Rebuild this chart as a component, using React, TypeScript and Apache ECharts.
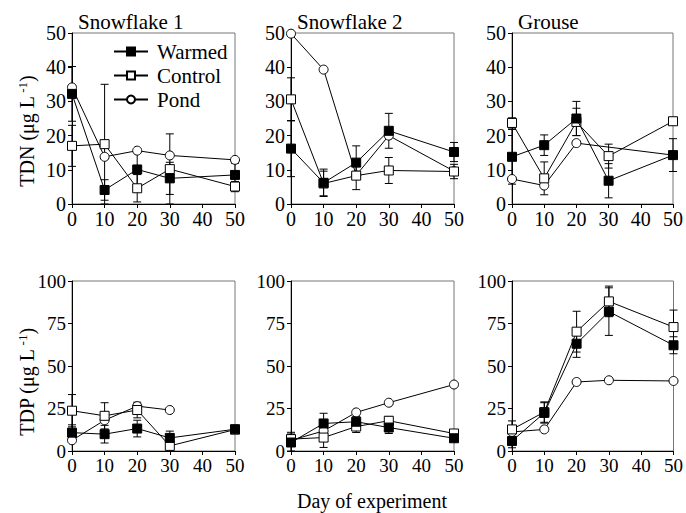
import React, { useEffect, useRef } from "react";
import * as echarts from "echarts";

const DAYS = [0, 10, 20, 30, 50];
const SERIES_NAMES = ["Warmed", "Control", "Pond"];
const PANEL_TITLES = ["Snowflake 1", "Snowflake 2", "Grouse", "", "", ""];

// TDN (µg/L)
const S1_TDN_WARMED = [32.2, 4.1, 10.1, 7.5, 8.5];
const S1_TDN_WARMED_ERR = [8, 3, 5, 4.7, 3.4];
const S1_TDN_CONTROL = [17.0, 17.5, 4.6, 10.2, 5.1];
const S1_TDN_CONTROL_ERR = [6, 17.5, 4, 10.3, 1.5];
const S1_TDN_POND = [34.1, 13.8, 15.6, 14.2, 12.9];

const S2_TDN_WARMED = [16.2, 6.2, 12.1, 21.4, 15.2];
const S2_TDN_WARMED_ERR = [8.2, 4, 4.9, 5.1, 2.8];
const S2_TDN_CONTROL = [30.6, 6.0, 8.3, 9.8, 9.5];
const S2_TDN_CONTROL_ERR = [6.3, 3.6, 4.1, 3.8, 2.1];
const S2_TDN_POND = [49.8, 39.3, 8.4, 20.0, 9.6];

const GR_TDN_WARMED = [13.8, 17.2, 25.0, 6.8, 14.3];
const GR_TDN_WARMED_ERR = [8, 3, 5, 5, 4.8];
const GR_TDN_CONTROL = [23.7, 7.5, 24.0, 14.0, 24.2];
const GR_TDN_CONTROL_ERR = [1.5, 4.8, 4, 3.5, 0];
const GR_TDN_POND = [7.3, 5.4, 17.8, null, 14.3];

// TDP (µg/L)
const S1_TDP_WARMED = [10.8, 9.9, 13.2, 7.7, 12.8];
const S1_TDP_WARMED_ERR = [4.6, 5.2, 4.9, 4, 0];
const S1_TDP_CONTROL = [23.7, 20.7, 24.1, 3.0, 12.6];
const S1_TDP_CONTROL_ERR = [9.5, 7.7, 4.6, 0, 0];
const S1_TDP_POND = [6.3, 18.1, 26.4, 24.1, null];

const S2_TDP_WARMED = [5.0, 16.2, 17.2, 13.8, 7.5];
const S2_TDP_WARMED_ERR = [5, 6, 3, 3.5, 0];
const S2_TDP_CONTROL = [7.0, 7.9, 14.4, 17.8, 10.3];
const S2_TDP_CONTROL_ERR = [4, 5.8, 3.5, 2.5, 0];
const S2_TDP_POND = [6.3, 11.8, 22.7, 28.4, 39.1];

const GR_TDP_WARMED = [5.9, 22.4, 63.1, 82.0, 62.2];
const GR_TDP_WARMED_ERR = [4, 6, 8, 14, 5];
const GR_TDP_CONTROL = [12.7, 22.9, 70.2, 88.0, 72.9];
const GR_TDP_CONTROL_ERR = [5, 6, 12, 9, 10];
const GR_TDP_POND = [11.2, 12.7, 40.6, 41.6, 41.2];

const X_MIN = 0;
const X_MAX = 50;
const X_INTERVAL = 10;
const TDN_MAX = 50;
const TDN_INTERVAL = 10;
const TDP_MAX = 100;
const TDP_INTERVAL = 25;

const FONT = "Liberation Serif";

const PANELS = [
  { w: S1_TDN_WARMED, we: S1_TDN_WARMED_ERR, c: S1_TDN_CONTROL, ce: S1_TDN_CONTROL_ERR, p: S1_TDN_POND, max: TDN_MAX, interval: TDN_INTERVAL },
  { w: S2_TDN_WARMED, we: S2_TDN_WARMED_ERR, c: S2_TDN_CONTROL, ce: S2_TDN_CONTROL_ERR, p: S2_TDN_POND, max: TDN_MAX, interval: TDN_INTERVAL },
  { w: GR_TDN_WARMED, we: GR_TDN_WARMED_ERR, c: GR_TDN_CONTROL, ce: GR_TDN_CONTROL_ERR, p: GR_TDN_POND, max: TDN_MAX, interval: TDN_INTERVAL },
  { w: S1_TDP_WARMED, we: S1_TDP_WARMED_ERR, c: S1_TDP_CONTROL, ce: S1_TDP_CONTROL_ERR, p: S1_TDP_POND, max: TDP_MAX, interval: TDP_INTERVAL },
  { w: S2_TDP_WARMED, we: S2_TDP_WARMED_ERR, c: S2_TDP_CONTROL, ce: S2_TDP_CONTROL_ERR, p: S2_TDP_POND, max: TDP_MAX, interval: TDP_INTERVAL },
  { w: GR_TDP_WARMED, we: GR_TDP_WARMED_ERR, c: GR_TDP_CONTROL, ce: GR_TDP_CONTROL_ERR, p: GR_TDP_POND, max: TDP_MAX, interval: TDP_INTERVAL },
];

const GRID_LEFTS = [72, 291, 512];
const GRID_WIDTH = 163;
const GRID_TOPS = [33, 281];
const GRID_HEIGHTS = [171, 170];
const ROW_FONT = [20, 19];

function buildOption() {
  const grids: any[] = [];
  const xAxes: any[] = [];
  const yAxes: any[] = [];
  const series: any[] = [];

  PANELS.forEach((pn, i) => {
    const row = Math.floor(i / 3);
    const col = i % 3;
    const fs = ROW_FONT[row];
    grids.push({
      left: GRID_LEFTS[col],
      top: GRID_TOPS[row],
      width: GRID_WIDTH,
      height: GRID_HEIGHTS[row],
      show: true,
      borderColor: "#777",
      borderWidth: 1,
      backgroundColor: "transparent",
    });
    xAxes.push({
      type: "value",
      gridIndex: i,
      min: X_MIN,
      max: X_MAX,
      interval: X_INTERVAL,
      axisLine: { show: true, onZero: false, lineStyle: { color: "#000", width: 1 } },
      axisTick: { show: true, inside: false, length: 4, lineStyle: { color: "#000" } },
      axisLabel: { color: "#000", fontFamily: FONT, fontSize: fs, lineHeight: 15, margin: 7, showMinLabel: true, showMaxLabel: true },
      splitLine: { show: false },
    });
    yAxes.push({
      type: "value",
      gridIndex: i,
      min: 0,
      max: pn.max,
      interval: pn.interval,
      axisLine: { show: true, onZero: false, lineStyle: { color: "#000", width: 1 } },
      axisTick: { show: true, inside: false, length: 4, lineStyle: { color: "#000" } },
      axisLabel: { color: "#000", fontFamily: FONT, fontSize: fs, lineHeight: 14, margin: 6, showMinLabel: true, showMaxLabel: true },
      splitLine: { show: false },
    });

    const errData: any[] = [];
    DAYS.forEach((d, k) => {
      if (pn.w[k] != null && pn.we[k]) errData.push([d, pn.w[k], pn.we[k]]);
      if (pn.c[k] != null && pn.ce[k]) errData.push([d, pn.c[k], pn.ce[k]]);
    });
    series.push({
      type: "custom",
      xAxisIndex: i,
      yAxisIndex: i,
      z: 1,
      silent: true,
      clip: false,
      encode: { x: 0, y: 1 },
      data: errData,
      renderItem: (params: any, api: any) => {
        const x = api.value(0);
        const v = api.value(1);
        const e = api.value(2);
        const hi = api.coord([x, Math.min(pn.max, v + e)]);
        const lo = api.coord([x, Math.max(0, v - e)]);
        const cw = 4;
        const st = { stroke: "#000", lineWidth: 1 };
        return {
          type: "group",
          children: [
            { type: "line", shape: { x1: hi[0], y1: hi[1], x2: lo[0], y2: lo[1] }, style: st },
            { type: "line", shape: { x1: hi[0] - cw, y1: hi[1], x2: hi[0] + cw, y2: hi[1] }, style: st },
            { type: "line", shape: { x1: lo[0] - cw, y1: lo[1], x2: lo[0] + cw, y2: lo[1] }, style: st },
          ],
        };
      },
    });

    const defs = [
      { name: SERIES_NAMES[0], vals: pn.w, symbol: "rect", fill: "#000", size: 9 },
      { name: SERIES_NAMES[1], vals: pn.c, symbol: "rect", fill: "#fff", size: 9 },
      { name: SERIES_NAMES[2], vals: pn.p, symbol: "circle", fill: "#fff", size: 9 },
    ];
    [2, 1, 0].forEach((j) => {
      const dd = defs[j];
      series.push({
        type: "line",
        name: dd.name,
        xAxisIndex: i,
        yAxisIndex: i,
        z: 3 + (2 - j),
        data: DAYS.map((d, k) => [d, dd.vals[k] == null ? "-" : dd.vals[k]]),
        connectNulls: true,
        symbol: dd.symbol,
        symbolSize: dd.size,
        showSymbol: true,
        lineStyle: { color: "#000", width: 1 },
        itemStyle: { color: dd.fill, borderColor: "#000", borderWidth: 1, opacity: 1 },
        emphasis: { disabled: true },
      });
    });
  });

  const titleGraphics = PANEL_TITLES.map((t, i) => {
    if (!t) return null;
    const col = i % 3;
    return {
      type: "text",
      x: GRID_LEFTS[col] + 6,
      y: 22,
      style: { text: t, fontFamily: FONT, fontSize: 21, fill: "#000", align: "left", verticalAlign: "middle" },
    };
  }).filter(Boolean);

  const supRich = {
    sup: { fontSize: 13, fontFamily: FONT, fill: "#000", verticalAlign: "top", lineHeight: 22, padding: [0, 0, 8, 0] },
    n: { fontSize: 20, fontFamily: FONT, fill: "#000", lineHeight: 22 },
  };

  return {
    animation: false,
    grid: grids,
    xAxis: xAxes,
    yAxis: yAxes,
    series,
    legend: {
      data: SERIES_NAMES,
      orient: "vertical",
      left: 113,
      top: 41,
      padding: 0,
      itemWidth: 34,
      itemHeight: 10,
      itemGap: 3,
      selectedMode: false,
      textStyle: { fontFamily: FONT, fontSize: 21, color: "#000", padding: [0, 0, 0, 4] },
    },
    graphic: [
      ...titleGraphics,
      {
        type: "text",
        x: 27,
        y: 131,
        rotation: Math.PI / 2,
        style: {
          text: "{n|TDN (μg L}{sup| -1}{n|)}",
          rich: supRich,
          align: "center",
          verticalAlign: "middle",
        },
      },
      {
        type: "text",
        x: 27,
        y: 382,
        rotation: Math.PI / 2,
        style: {
          text: "{n|TDP (μg L}{sup| -1}{n|)}",
          rich: supRich,
          align: "center",
          verticalAlign: "middle",
        },
      },
      {
        type: "text",
        x: 372,
        y: 501,
        style: {
          text: "Day of experiment",
          fontFamily: FONT,
          fontSize: 20,
          lineHeight: 20,
          fill: "#000",
          align: "center",
          verticalAlign: "middle",
        },
      },
    ],
  };
}

export default function App() {
  const ref = useRef<HTMLDivElement>(null);
  useEffect(() => {
    if (!ref.current) return;
    const chart = echarts.init(ref.current, null, { renderer: "svg" });
    chart.setOption(buildOption() as any);
    return () => chart.dispose();
  }, []);
  return (
    <div
      ref={ref}
      style={{ width: 686, height: 513, position: "absolute", left: 0, top: 0, background: "#fff" }}
    />
  );
}
